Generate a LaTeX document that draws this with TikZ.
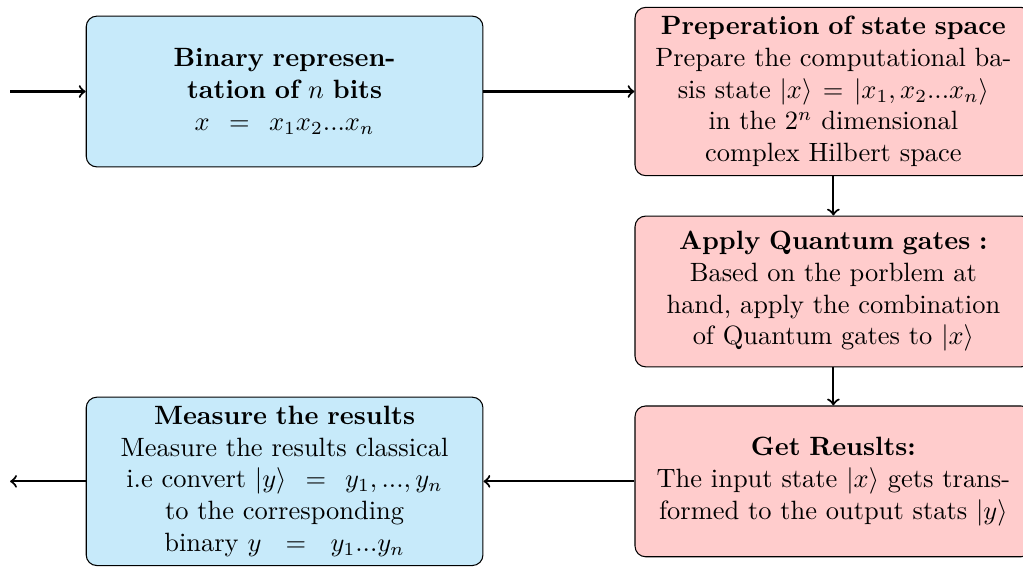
\documentclass[tikz,border=0pt]{standalone}
\usepackage{amsmath}
\begin{document}
\begin{tikzpicture}[x=1pt,y=1pt,
  box/.style={draw, rounded corners, align=center, minimum width=150pt, minimum height=57pt, inner sep=3.33pt},
  bluebox/.style={box, fill=bluefill},
  redbox/.style={box, fill=redfill, text width=4.75cm},
  flow/.style={->, thick}]
\definecolor{bluefill}{RGB}{199,234,250}
\definecolor{redfill}{RGB}{255,204,204}
\useasboundingbox (0,0) rectangle (386.8,-214.7);
\node[bluebox, text width=3cm] (b1) at (107.6,-34.6) {\textbf{Binary representation of $n$ bits}\\ $x~=~x_1x_2...x_n$};
\node[redbox] (b2) at (315.1,-34.6) {\textbf{Preperation of state space}\\ Prepare the computational ba-\\sis state $|x\rangle = |x_1,x_2...x_n\rangle$\\ in the $2^n$ dimensional complex Hilbert space};
\node[redbox] (b3) at (315.1,-110.2) {\textbf{Apply Quantum gates :}\\ Based on the porblem at hand, apply the combination of Quantum gates to $|x\rangle$};
\node[redbox] (b4) at (315.1,-182.0) {\textbf{Get Reuslts:}\\ The input state $|x\rangle$ gets transformed to the output stats $|y\rangle$};
\node[bluebox, text width=4.75cm] (b5) at (107.6,-182.0) {\textbf{Measure the results}\\ Measure the results classical\\ i.e convert $|y\rangle~=~y_1,...,y_n$\\ to the corresponding\\ binary $y~=~y_1...y_n$};
\coordinate (in) at (3.8,-34.6);
\coordinate (out) at (3.8,-182.0);
\draw[flow] (in) -- (b1);
\draw[flow] (b1) -- (b2);
\draw[flow] (b2) -- (b3);
\draw[flow] (b3) -- (b4);
\draw[flow] (b4) -- (b5);
\draw[flow] (b5) -- (out);
\end{tikzpicture}
\end{document}
